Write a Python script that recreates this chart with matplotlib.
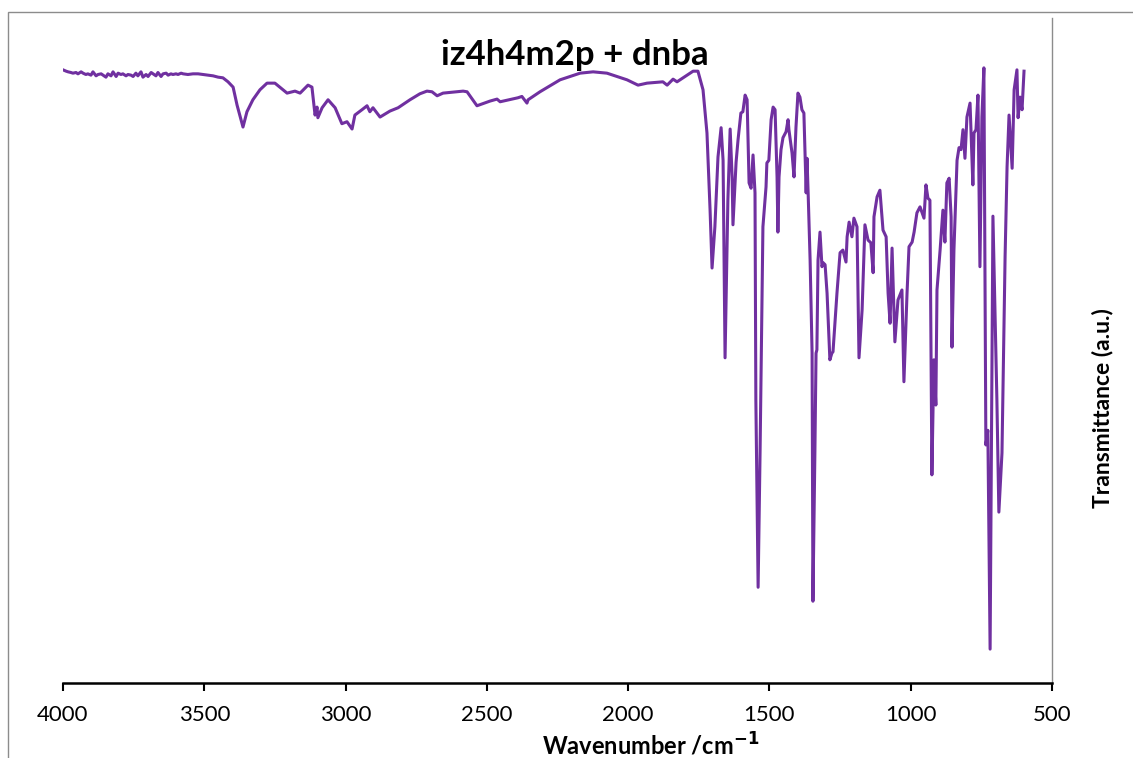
import matplotlib.pyplot as plt
from matplotlib.patches import Rectangle

# FTIR spectrum
wavenumber = [
    4000, 3989, 3982, 3972, 3965, 3954, 3947, 3936, 3929, 3919, 3912, 3901,
    3894, 3883, 3876, 3865, 3858, 3848, 3841, 3830, 3823, 3812, 3805, 3795,
    3788, 3777, 3770, 3759, 3752, 3742, 3735, 3724, 3717, 3706, 3699, 3688,
    3681, 3671, 3664, 3653, 3646, 3635, 3628, 3618, 3611, 3600, 3593, 3582,
    3575, 3558, 3540, 3522, 3505, 3487, 3469, 3451, 3434, 3416,
    3398, 3384, 3363, 3349, 3328, 3303, 3278, 3250, 3207, 3179, 3161, 3133,
    3119, 3108, 3101, 3098, 3083, 3062, 3037, 3013, 2995, 2977, 2967, 2942,
    2924, 2914, 2903, 2878, 2843, 2814, 2772, 2737, 2712, 2694, 2676, 2655,
    2584, 2570, 2535, 2489, 2464, 2453, 2390, 2376, 2358, 2354, 2312, 2241,
    2170, 2124, 2075, 2004, 1965, 1933, 1877, 1862, 1841, 1827, 1770, 1753,
    1735, 1721, 1710, 1703, 1693, 1682, 1671, 1664, 1657, 1647, 1639, 1632,
    1629, 1618, 1611, 1601, 1594, 1586, 1579, 1572, 1565, 1558, 1551, 1548,
    1540, 1533, 1523, 1512, 1509, 1502, 1494, 1487, 1480, 1473, 1470, 1466,
    1459, 1452, 1441, 1434, 1431, 1420, 1413, 1406, 1399, 1392, 1385, 1378,
    1370, 1367, 1363, 1356, 1349, 1346, 1339, 1335, 1332, 1328, 1321, 1314,
    1310, 1303, 1296, 1286, 1279, 1275, 1261, 1250, 1240, 1229, 1225, 1218,
    1208, 1201, 1190, 1183, 1172, 1162, 1151, 1141, 1133, 1130, 1119, 1109,
    1098, 1087, 1080, 1073, 1066, 1056, 1045, 1031, 1024, 1013, 1006, 995,
    988, 978, 967, 953, 946, 939, 932, 925, 918, 911, 907, 896,
    886, 879, 872, 864, 857, 854, 847, 836, 829, 822, 815, 808,
    801, 790, 780, 776, 769, 762, 755, 748, 741, 734, 727, 719,
    709, 695, 688, 677, 666, 659, 652, 641, 634, 624, 620, 613,
    606, 599,
]
transmittance = [
    92.2, 92.0, 91.9, 91.8, 91.7, 91.8, 91.6, 91.9, 91.7, 91.5, 91.6, 91.4,
    91.9, 91.3, 91.5, 91.6, 91.4, 91.1, 91.6, 91.3, 91.9, 91.2, 91.7, 91.5,
    91.6, 91.3, 91.5, 91.4, 91.2, 91.7, 91.3, 91.9, 91.1, 91.5, 91.2, 91.8,
    91.6, 91.3, 91.8, 91.2, 91.6, 91.7, 91.4, 91.6, 91.5, 91.6, 91.5, 91.7,
    91.6, 91.5, 91.6, 91.6, 91.5, 91.4, 91.3, 91.1, 91.0, 90.4,
    89.6, 86.9, 83.6, 85.9, 87.7, 89.2, 90.2, 90.2, 88.7, 89.0, 88.7, 89.9,
    89.6, 85.4, 86.6, 85.0, 86.5, 87.7, 86.5, 84.1, 84.4, 83.3, 85.4, 86.2,
    86.8, 85.9, 86.5, 85.1, 86.0, 86.5, 87.7, 88.6, 89.0, 88.9, 88.3, 88.7,
    89.0, 88.9, 86.8, 87.5, 87.8, 87.4, 88.0, 88.2, 87.2, 87.7, 88.9, 90.7,
    91.7, 91.9, 91.7, 90.7, 89.9, 90.2, 90.4, 89.9, 90.8, 90.4, 92.0, 92.0,
    89.2, 82.7, 71.1, 62.4, 68.6, 79.1, 83.5, 78.6, 48.9, 72.6, 83.3, 76.1,
    68.9, 78.3, 81.7, 85.7, 85.9, 88.4, 87.7, 75.2, 74.4, 79.4, 73.7, 42.6,
    14.4, 35.0, 68.6, 74.6, 78.2, 78.6, 84.7, 86.6, 86.2, 76.1, 67.8, 76.1,
    80.2, 82.0, 82.9, 84.7, 83.2, 79.7, 76.1, 83.6, 88.7, 88.1, 86.2, 85.7,
    73.7, 78.9, 73.7, 63.6, 49.6, 12.3, 35.0, 49.6, 50.1, 63.6, 67.8, 62.6,
    63.2, 62.9, 58.6, 48.6, 49.6, 49.8, 58.6, 64.7, 65.1, 63.3, 67.1, 69.3,
    67.1, 69.9, 68.6, 48.9, 56.1, 68.9, 66.6, 66.2, 61.7, 70.1, 73.1, 74.1,
    68.1, 67.1, 58.6, 54.1, 65.4, 51.3, 57.6, 59.1, 45.3, 58.6, 65.6, 66.3,
    67.8, 70.7, 71.6, 69.9, 74.9, 72.9, 72.6, 31.3, 48.6, 41.8, 59.1, 65.1,
    71.1, 66.3, 75.2, 75.9, 70.1, 50.5, 65.1, 78.6, 80.5, 80.2, 83.2, 78.9,
    85.1, 87.2, 74.9, 82.7, 83.2, 88.4, 62.6, 85.1, 92.5, 35.8, 38.0, 5.1,
    70.2, 42.6, 25.7, 34.6, 64.1, 77.6, 85.4, 77.4, 89.2, 92.2, 85.0, 88.1,
    86.2, 92.0,
]
x_ticks = [4000, 3500, 3000, 2500, 2000, 1500, 1000, 500]

plt.rcParams['font.family'] = ['Lato', 'DejaVu Sans']

fig = plt.figure(figsize=(11.33, 7.58), dpi=100)
ax = fig.add_axes([0.0556, 0.0989, 0.8729, 0.8774])

ax.plot(wavenumber, transmittance, color='#7030A0', linewidth=2.2)

ax.set_xlim(4000, 500)
ax.set_ylim(0, 100)
ax.set_xticks(x_ticks)
ax.set_yticks([])
ax.tick_params(axis='x', direction='out', length=6, width=1.5, labelsize=16, pad=10)

ax.spines['top'].set_visible(False)
ax.spines['left'].set_visible(False)
ax.spines['bottom'].set_linewidth(1.8)
ax.spines['right'].set_color('#8c8c8c')
ax.spines['right'].set_linewidth(1.0)

fig.text(0.5075, 0.927, 'iz4h4m2p + dnba', fontsize=25, fontweight='bold',
         ha='center', va='center')
fig.text(0.5746, 0.016, r'Wavenumber /cm$^{\mathbf{-1}}$', fontsize=17,
         fontweight='bold', ha='center', va='center')
fig.text(0.9735, 0.462, 'Transmittance (a.u.)', fontsize=16.5, fontweight='bold',
         rotation=90, ha='center', va='center')

# chart area border
fig.add_artist(Rectangle((0.0071, -0.05), 1.1, 0.0348 + 1.0, transform=fig.transFigure,
                         fill=False, edgecolor='#8c8c8c', linewidth=1.0))

fig.savefig('out.png', dpi=100)
